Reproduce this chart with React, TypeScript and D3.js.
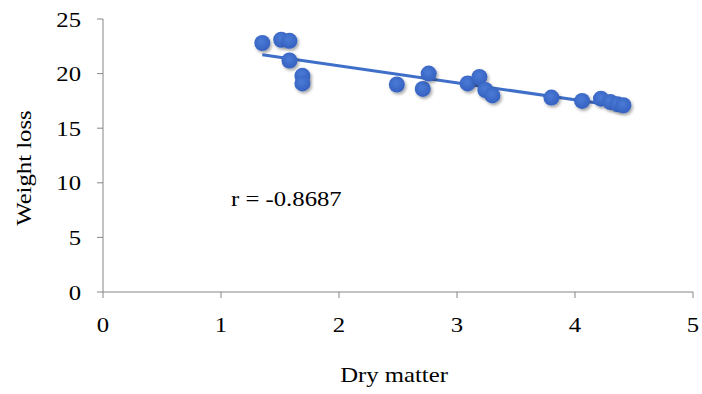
import React from 'react';
import * as d3 from 'd3';

const width = 702;
const height = 394;

// dry matter (x) and weight loss (y)
const dryMatter = [1.35, 1.51, 1.58, 1.58, 1.69, 1.69, 2.49, 2.71, 2.76, 3.09, 3.19, 3.24, 3.30, 3.80, 4.06, 4.22, 4.30, 4.36, 4.41];
const weightLoss = [22.8, 23.1, 23.0, 21.2, 19.8, 19.1, 19.0, 18.6, 20.0, 19.1, 19.7, 18.5, 18.0, 17.8, 17.5, 17.7, 17.4, 17.2, 17.1];
const xTicks = [0, 1, 2, 3, 4, 5];
const yTicks = [0, 5, 10, 15, 20, 25];
const rLabel = 'r = -0.8687';

const margin = { left: 103, right: 9, top: 19, bottom: 102 };

const fontFamily = 'Liberation Serif';
const fontSize = 21.5;
const stretch = 1.15; // the original type is a bit wider than Liberation Serif

// text helper: positions at (x,y) then stretches horizontally
const Label = ({ x, y, rotate = 0, anchor = 'start', children }: any) => (
  <text
    transform={`translate(${x},${y}) rotate(${rotate}) scale(${stretch},1)`}
    fontFamily={fontFamily}
    fontSize={fontSize}
    textAnchor={anchor}
    fill="#000"
  >
    {children}
  </text>
);

const App = () => {
  const x = d3.scaleLinear().domain([0, 5]).range([margin.left, width - margin.right]);
  const y = d3.scaleLinear().domain([0, 25]).range([height - margin.bottom, margin.top]);

  // least-squares trend line
  const mx = d3.mean(dryMatter) as number;
  const my = d3.mean(weightLoss) as number;
  let sxy = 0;
  let sxx = 0;
  dryMatter.forEach((v, i) => {
    sxy += (v - mx) * (weightLoss[i] - my);
    sxx += (v - mx) * (v - mx);
  });
  const slope = sxy / sxx;
  const icpt = my - slope * mx;
  const [x0, x1] = d3.extent(dryMatter) as [number, number];
  const trend = d3.line<number>().x(d => x(d)).y(d => y(icpt + slope * d));

  const axisColor = '#868686';
  const y0 = y(0);

  return (
    <svg width={width} height={height} style={{ position: 'absolute', left: 0, top: 0 }}>
      <defs>
        <filter id="shadow" x="-50%" y="-50%" width="200%" height="200%">
          <feDropShadow dx="1.5" dy="2" stdDeviation="1.6" floodColor="#000" floodOpacity="0.35" />
        </filter>
        <radialGradient id="dot" cx="45%" cy="40%" r="60%">
          <stop offset="0%" stopColor="#4a7ad6" />
          <stop offset="100%" stopColor="#3561c0" />
        </radialGradient>
      </defs>
      <rect width={width} height={height} fill="#fff" />

      {/* axes */}
      <line x1={x(0)} x2={x(0)} y1={y(25)} y2={y0} stroke={axisColor} strokeWidth={1} />
      <line x1={x(0)} x2={x(5)} y1={y0} y2={y0} stroke={axisColor} strokeWidth={1} />
      {yTicks.map(t => (
        <g key={'y' + t}>
          <line x1={x(0) - 6} x2={x(0)} y1={y(t)} y2={y(t)} stroke={axisColor} />
          <Label x={x(0) - 22} y={y(t) + 7.5} anchor="end">{t}</Label>
        </g>
      ))}
      {xTicks.map(t => (
        <g key={'x' + t}>
          <line x1={x(t)} x2={x(t)} y1={y0} y2={y0 + 6} stroke={axisColor} />
          <Label x={x(t)} y={y0 + 40} anchor="middle">{t}</Label>
        </g>
      ))}

      {/* axis titles */}
      <Label x={394} y={382} anchor="middle">Dry matter</Label>
      <Label x={31} y={168} rotate={-90} anchor="middle">Weight loss</Label>

      {/* trend line */}
      <path d={trend([x0, x1]) as string} fill="none" stroke="#3f6fc8" strokeWidth={3} />

      {/* points */}
      {dryMatter.map((v, i) => (
        <circle key={i} cx={x(v)} cy={y(weightLoss[i])} r={8} fill="url(#dot)" filter="url(#shadow)" />
      ))}

      <Label x={231} y={206}>{rLabel}</Label>
    </svg>
  );
};

export default App;
